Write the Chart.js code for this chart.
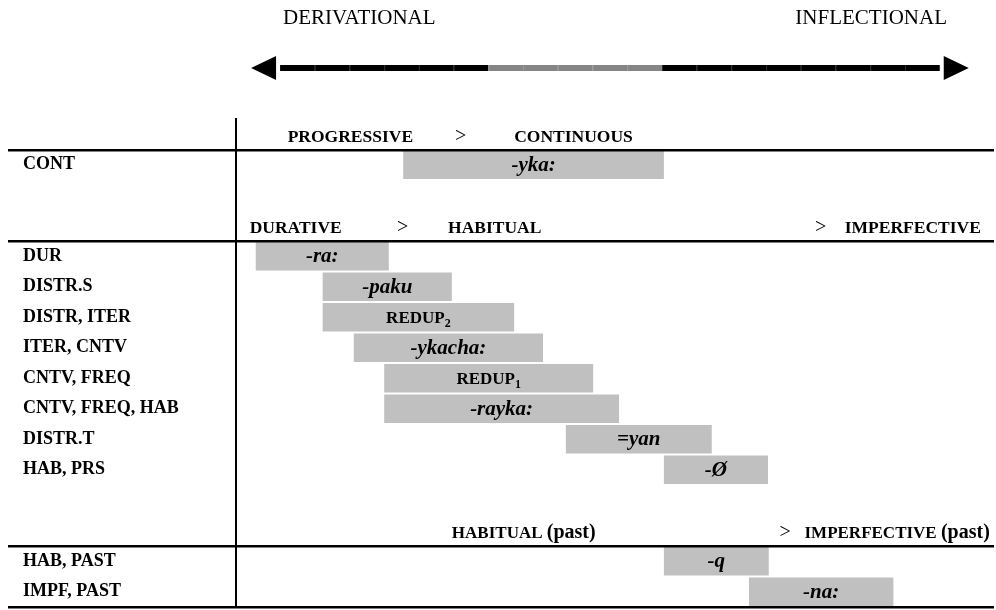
<!DOCTYPE html>
<html>
<head>
<meta charset="utf-8">
<script src="https://cdn.jsdelivr.net/npm/chart.js@4.4.1/dist/chart.umd.min.js"></script>
<style>
  html, body { margin: 0; padding: 0; background: #fff; }
</style>
</head>
<body>
<canvas id="gram" width="996" height="610"></canvas>
<script>
// table rows, top to bottom ('' = header or spacer row)
var rowLabels = ['', 'CONT', '', '', 'DUR', 'DISTR.S', 'DISTR, ITER', 'ITER, CNTV',
  'CNTV, FREQ', 'CNTV, FREQ, HAB', 'DISTR.T', 'HAB, PRS', '', '', 'HAB, PAST', 'IMPF, PAST'];
var morphemes = ['', '-yka:', '', '', '-ra:', '-paku', 'REDUP', '-ykacha:',
  'REDUP', '-rayka:', '=yan', '-\u00D8', '', '', '-q', '-na:'];
var morphemeSub = ['', '', '', '', '', '', '2', '', '1', '', '', '', '', '', '', ''];
// span on the derivational (0) -> inflectional (100) scale
var spanStart = [null, 22.0, null, null, 2.6, 11.4, 11.4, 15.5, 19.5, 19.5, 43.4, 56.3, null, null, 56.3, 67.5];
var spanEnd   = [null, 56.3, null, null, 20.1, 28.4, 36.6, 40.4, 47.0, 50.4, 62.6, 70.0, null, null, 70.1, 86.5];

// grammaticalization paths written in the header rows
var pathRows = [0, 3, 13];
var pathTerms = [['PROGRESSIVE', 'CONTINUOUS'], ['DURATIVE', 'HABITUAL', 'IMPERFECTIVE'],
  ['HABITUAL (past)', 'IMPERFECTIVE (past)']];
var pathAt = [[6.8, 36.6], [1.8, 27.9, 80.1], [28.4, 74.8]];
var gtAt = [[28.8], [21.2, 76.2], [71.5]];
var ruleRows = [1, 4, 14, 16];

// top arrow: 19 pieces, the middle ones grey
var arrowFrom = 5.8, arrowTo = 92.6, arrowPieces = 19, greyFrom = 6, greyTo = 10;

var SERIF = "'Liberation Serif', 'Times New Roman', serif";

function drawMorpheme(ctx, i, cx, cy) {
  var txt = morphemes[i], sub = morphemeSub[i];
  ctx.fillStyle = '#000';
  ctx.textBaseline = 'alphabetic';
  if (sub) {
    ctx.font = 'bold 17px ' + SERIF;
    var w1 = ctx.measureText(txt).width;
    ctx.font = 'bold 12px ' + SERIF;
    var w2 = ctx.measureText(sub).width;
    var x0 = cx - (w1 + w2) / 2;
    ctx.textAlign = 'left';
    ctx.font = 'bold 17px ' + SERIF;
    ctx.fillText(txt, x0, cy + 6);
    ctx.font = 'bold 12px ' + SERIF;
    ctx.fillText(sub, x0 + w1, cy + 10);
  } else {
    ctx.font = 'italic bold 21px ' + SERIF;
    ctx.textAlign = 'center';
    ctx.fillText(txt, cx, cy + 6);
  }
}

var decor = {
  id: 'decor',
  afterDraw: function (chart) {
    var ctx = chart.ctx, x = chart.scales.x, y = chart.scales.y;
    var area = chart.chartArea;
    ctx.save();

    // scale ends
    ctx.fillStyle = '#000';
    ctx.textBaseline = 'alphabetic';
    ctx.font = '21px ' + SERIF;
    ctx.textAlign = 'left';
    ctx.fillText('DERIVATIONAL', x.getPixelForValue(6.2), 24);
    ctx.textAlign = 'right';
    ctx.fillText('INFLECTIONAL', x.getPixelForValue(93.55), 24);

    // arrow
    var ay = 68, step = (arrowTo - arrowFrom) / arrowPieces;
    for (var k = 0; k < arrowPieces; k++) {
      var p0 = x.getPixelForValue(arrowFrom + k * step);
      var p1 = x.getPixelForValue(arrowFrom + (k + 1) * step);
      var grey = k >= greyFrom && k <= greyTo;
      ctx.fillStyle = grey ? '#858585' : '#000';
      ctx.fillRect(p0, ay - 3, p1 - p0, 6);
      ctx.fillStyle = grey ? '#9a9a9a' : '#2a2a2a';
      if (k > 0) ctx.fillRect(p0, ay - 3, 1, 6);
    }
    ctx.fillStyle = '#000';
    var l = x.getPixelForValue(arrowFrom), r = x.getPixelForValue(arrowTo);
    ctx.beginPath();
    ctx.moveTo(l - 29, ay); ctx.lineTo(l - 4, ay - 12); ctx.lineTo(l - 4, ay + 12); ctx.closePath();
    ctx.fill();
    ctx.beginPath();
    ctx.moveTo(r + 29, ay); ctx.lineTo(r + 4, ay - 12); ctx.lineTo(r + 4, ay + 12); ctx.closePath();
    ctx.fill();

    // header rows
    pathRows.forEach(function (row, n) {
      var base = y.getPixelForValue(row + 0.5) - 8;
      pathTerms[n].forEach(function (term, j) {
        var px = x.getPixelForValue(pathAt[n][j]);
        ctx.textAlign = 'left';
        var cut = term.indexOf(' (');
        if (cut > 0) {
          ctx.font = 'bold 17px ' + SERIF;
          var head = term.slice(0, cut);
          ctx.fillText(head, px, base);
          var hw = ctx.measureText(head + ' ').width;
          ctx.font = 'bold 20px ' + SERIF;
          ctx.fillText(term.slice(cut + 1), px + hw, base);
        } else {
          ctx.font = 'bold 17.5px ' + SERIF;
          ctx.fillText(term, px, base);
        }
      });
      gtAt[n].forEach(function (v) {
        ctx.font = '20px ' + SERIF;
        ctx.textAlign = 'left';
        ctx.fillText('>', x.getPixelForValue(v), base);
      });
    });

    // horizontal rules
    ctx.fillStyle = '#000';
    ruleRows.forEach(function (r) {
      var py = Math.round(y.getPixelForValue(r - 0.5));
      ctx.fillRect(8, py - 1, area.right - 10, 2.5);
    });

    // morpheme text on the bars
    var meta = chart.getDatasetMeta(0);
    meta.data.forEach(function (bar, i) {
      if (!morphemes[i] || spanStart[i] === null) return;
      drawMorpheme(ctx, i, (bar.x + bar.base) / 2, bar.y);
    });

    ctx.restore();
  }
};

new Chart(document.getElementById('gram'), {
  type: 'bar',
  data: {
    labels: rowLabels,
    datasets: [{
      data: spanStart.map(function (s, i) { return s === null ? null : [s, spanEnd[i]]; }),
      backgroundColor: '#c0c0c0',
      borderWidth: 0,
      borderSkipped: false,
      barPercentage: 0.93,
      categoryPercentage: 1
    }]
  },
  options: {
    indexAxis: 'y',
    responsive: false,
    animation: false,
    devicePixelRatio: 1,
    layout: { autoPadding: false, padding: { top: 119, bottom: 3, left: 23, right: 0 } },
    plugins: { legend: { display: false }, tooltip: { enabled: false } },
    scales: {
      x: { display: false, min: 0, max: 100 },
      y: {
        grid: { display: false, drawTicks: false },
        border: { display: true, color: '#000', width: 2 },
        ticks: {
          crossAlign: 'far',
          padding: 0,
          color: '#000',
          font: { family: SERIF, weight: 'bold', size: 18 }
        },
        afterFit: function (s) {
          s.width = 213;
          // keep the table flush with the bottom rule
          s.paddingTop = 0;
          s.paddingBottom = 0;
        }
      }
    }
  },
  plugins: [decor]
});
</script>
</body>
</html>
